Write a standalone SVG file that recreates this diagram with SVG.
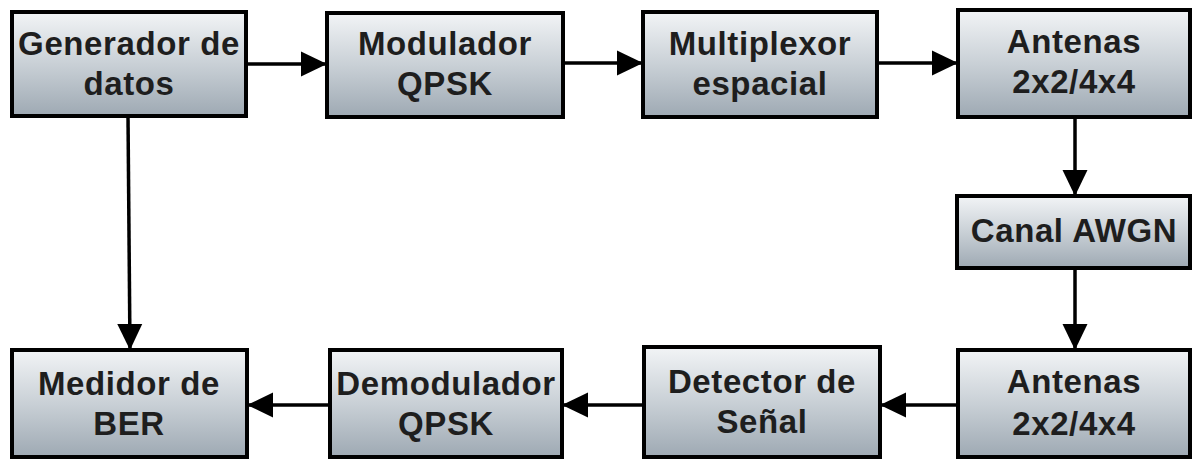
<svg xmlns="http://www.w3.org/2000/svg" width="1193" height="459" viewBox="0 0 1193 459">
<defs>
<linearGradient id="g" x1="0" y1="0" x2="0" y2="1">
<stop offset="0" stop-color="#f2f4f6"/>
<stop offset="0.5" stop-color="#c9d0d6"/>
<stop offset="1" stop-color="#9ea9b3"/>
</linearGradient>
<marker id="a" markerUnits="userSpaceOnUse" markerWidth="28" markerHeight="28" viewBox="0 0 28 28" refX="26" refY="14" orient="auto">
<path d="M0,1.5 L26,14 L0,26.5 Z" fill="#000"/>
</marker>
</defs>
<style>
.box{fill:url(#g);stroke:#000;stroke-width:4}
.t{font-family:"Liberation Sans",Arial,sans-serif;font-weight:bold;font-size:33px;letter-spacing:0.6px;fill:#1e1e1e;text-anchor:middle}
.c{fill:none;stroke:#000;stroke-width:3.5;marker-end:url(#a)}
</style>
<rect width="1193" height="459" fill="#fff"/>
<g id="connectors">
<path class="c" d="M246,64 L327,64"/>
<path class="c" d="M563,63 L643,63"/>
<path class="c" d="M877,63 L958,63"/>
<path class="c" d="M1075,117 L1075,196"/>
<path class="c" d="M1075,268 L1075,350"/>
<path class="c" d="M958,405 L880,405"/>
<path class="c" d="M644,405 L562,405"/>
<path class="c" d="M330,405 L247,405"/>
<path class="c" d="M128,116 L130,350"/>
</g>
<g id="n1"><rect class="box" x="12" y="12" width="234" height="104"/><text class="t" x="129" y="55">Generador de</text><text class="t" x="129" y="95">datos</text></g>
<g id="n2"><rect class="box" x="327" y="13" width="236" height="104"/><text class="t" x="445" y="55">Modulador</text><text class="t" x="445" y="95">QPSK</text></g>
<g id="n3"><rect class="box" x="643" y="12" width="234" height="105"/><text class="t" x="760" y="55">Multiplexor</text><text class="t" x="760" y="95">espacial</text></g>
<g id="n4"><rect class="box" x="958" y="10" width="232" height="107"/><text class="t" x="1074" y="53">Antenas</text><text class="t" x="1074" y="93">2x2/4x4</text></g>
<g id="n5"><rect class="box" x="957" y="196" width="233" height="72"/><text class="t" x="1074" y="242">Canal AWGN</text></g>
<g id="n6"><rect class="box" x="958" y="350" width="232" height="107"/><text class="t" x="1074" y="393">Antenas</text><text class="t" x="1074" y="435">2x2/4x4</text></g>
<g id="n7"><rect class="box" x="644" y="347" width="236" height="110"/><text class="t" x="762" y="393">Detector de</text><text class="t" x="762" y="433">Señal</text></g>
<g id="n8"><rect class="box" x="330" y="350" width="232" height="107"/><text class="t" x="446" y="395">Demodulador</text><text class="t" x="446" y="435">QPSK</text></g>
<g id="n9"><rect class="box" x="12" y="350" width="235" height="107"/><text class="t" x="129" y="395">Medidor de</text><text class="t" x="129" y="435">BER</text></g>
</svg>
